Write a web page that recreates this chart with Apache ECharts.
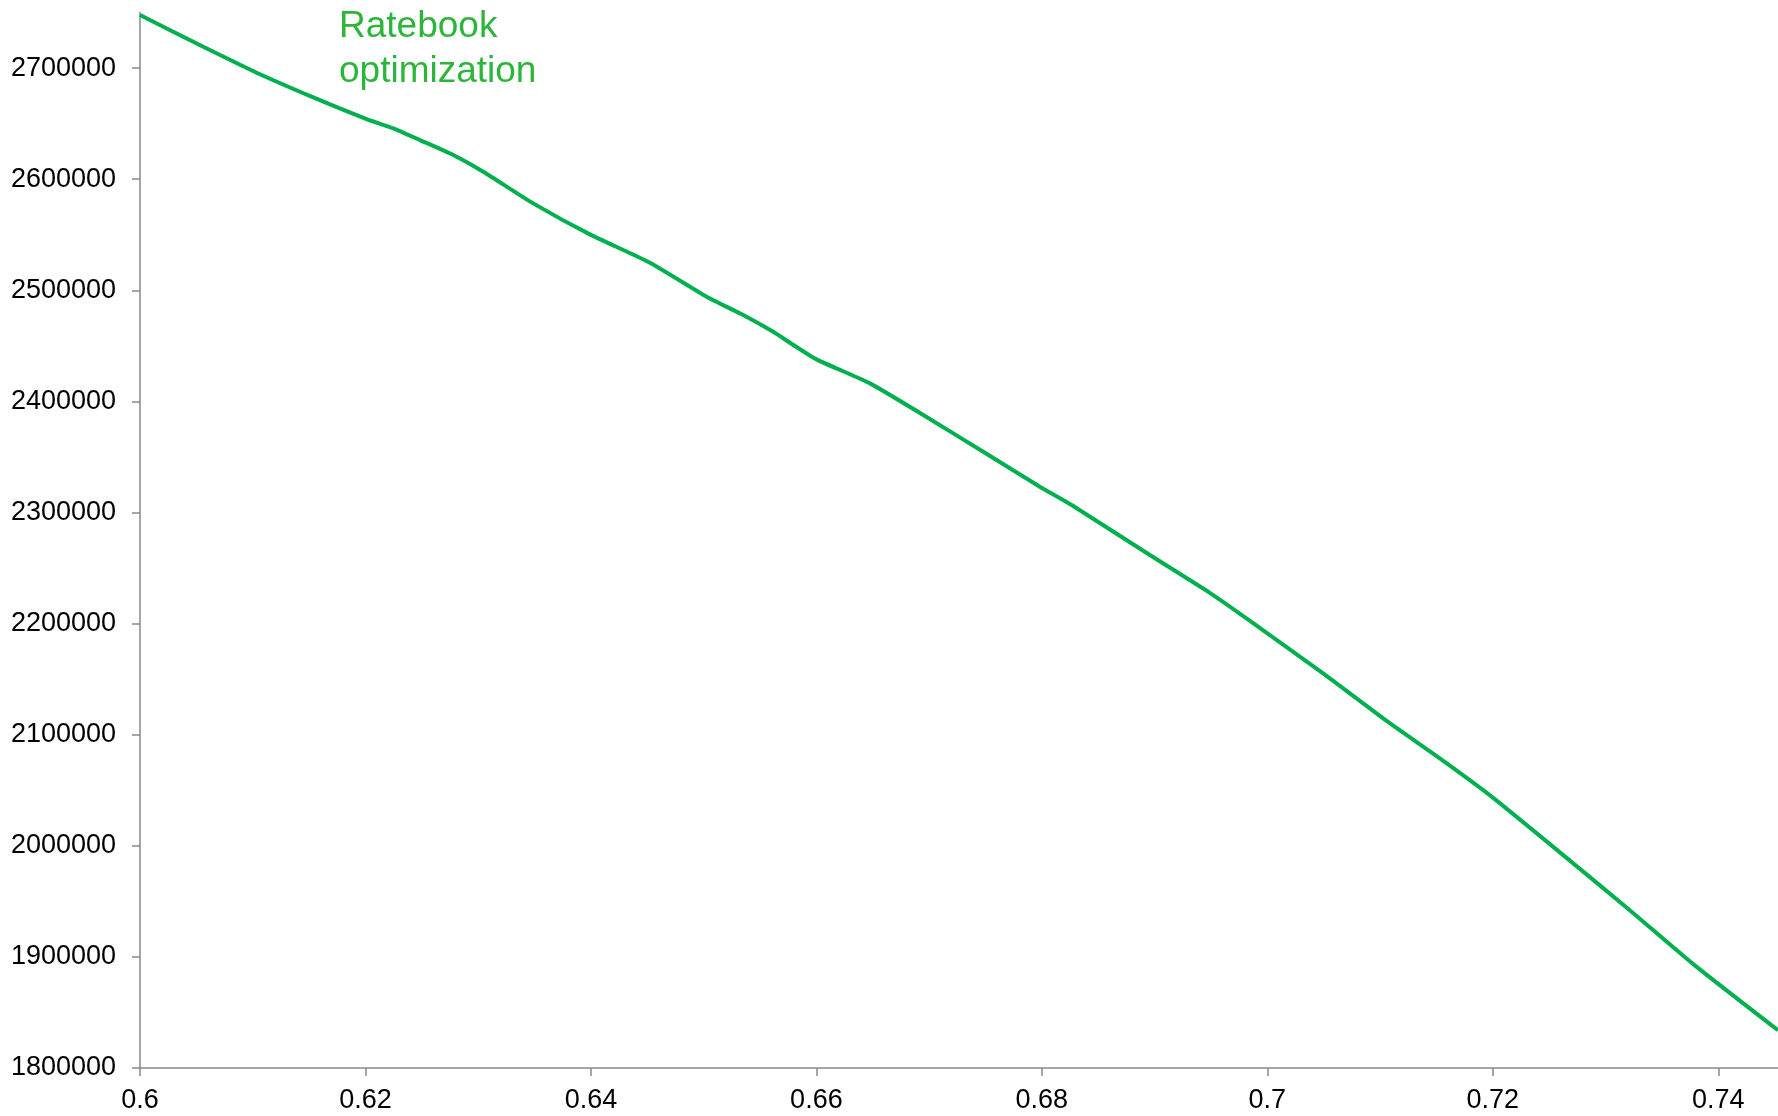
<!DOCTYPE html>
<html>
<head>
<meta charset="utf-8">
<script src="https://cdn.jsdelivr.net/npm/echarts@6/dist/echarts.min.js"></script>
<style>
html,body{margin:0;padding:0;background:#fff;}
#chart{width:1778px;height:1116px;}
</style>
</head>
<body>
<div id="chart"></div>
<script>
const lossRatio = [0.6, 0.6053, 0.61035, 0.61537, 0.6201, 0.62247, 0.62483, 0.62779, 0.63045, 0.63488, 0.63991,
  0.64523, 0.65026, 0.65351, 0.65617, 0.65765, 0.66001, 0.66475, 0.66948, 0.6748, 0.67982,
  0.68278, 0.68958, 0.6949, 0.69815, 0.70495, 0.71027, 0.7153, 0.71973,
  0.72606, 0.73197, 0.73789, 0.7453];
const profit = [2747700, 2720700, 2695800, 2673600, 2654100, 2645700, 2635200, 2621700, 2606700, 2578200, 2550300,
  2524800, 2494200, 2477700, 2462600, 2452800, 2437800, 2416200, 2387700, 2354600, 2323200,
  2305800, 2261700, 2227700, 2204700, 2155200, 2114700, 2078700, 2045600,
  1993200, 1943600, 1892600, 1834000];
const xTicks = [0.6, 0.62, 0.64, 0.66, 0.68, 0.7, 0.72, 0.74];
const yTicks = [1800000, 1900000, 2000000, 2100000, 2200000, 2300000, 2400000, 2500000, 2600000, 2700000];
const annotation = 'Ratebook\noptimization';

const chart = echarts.init(document.getElementById('chart'), null, {renderer: 'canvas'});
const axisColor = '#898989';
chart.setOption({
  animation: false,
  backgroundColor: '#ffffff',
  grid: {left: 140, right: 0, top: 12.5, bottom: 48, containLabel: false},
  xAxis: {
    type: 'value', min: 0.6, max: 0.7453,
    axisLine: {show: true, onZero: false, lineStyle: {color: axisColor, width: 1.5}},
    axisTick: {show: true, inside: false, length: 8, customValues: xTicks, lineStyle: {color: axisColor, width: 1.5}},
    axisLabel: {customValues: xTicks, margin: 19, color: '#000', fontFamily: 'Liberation Sans', fontSize: 27,
      formatter: v => String(v)},
    splitLine: {show: false}
  },
  yAxis: {
    type: 'value', min: 1800000, max: 2750000,
    axisLine: {show: true, lineStyle: {color: axisColor, width: 1.5}},
    axisTick: {show: true, inside: false, length: 8, customValues: yTicks, lineStyle: {color: axisColor, width: 1.5}},
    axisLabel: {customValues: yTicks, margin: 24, color: '#000', fontFamily: 'Liberation Sans', fontSize: 27,
      formatter: v => String(v)},
    splitLine: {show: false}
  },
  series: [{
    type: 'line',
    data: lossRatio.map((x, i) => [x, profit[i]]),
    showSymbol: false,
    smooth: 0.2,
    clip: true,
    lineStyle: {color: '#00b04f', width: 4},
    itemStyle: {color: '#00b04f'}
  }],
  graphic: [{
    type: 'text',
    left: 339, top: 4,
    style: {text: annotation, fill: '#2cb53b', font: '37px "Liberation Sans"', lineHeight: 45}
  }]
});
</script>
</body>
</html>
